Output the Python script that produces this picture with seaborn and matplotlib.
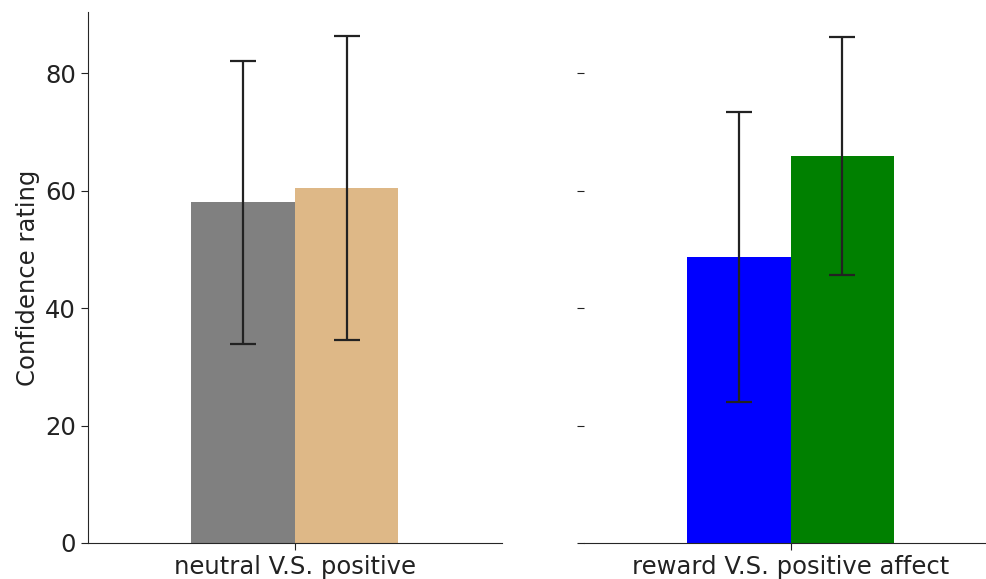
import matplotlib
matplotlib.use("Agg")
import matplotlib.pyplot as plt
import seaborn as sns
import pandas as pd

# Data
left_category = ["neutral V.S. positive"]
left_groups = ["neutral", "positive"]
left_means = [58.0, 60.4]
left_sd = [24.1, 25.9]
left_colors = ["gray", "burlywood"]

right_category = ["reward V.S. positive affect"]
right_groups = ["reward", "positive affect"]
right_means = [48.7, 65.9]
right_sd = [24.7, 20.3]
right_colors = ["blue", "green"]

y_label = "Confidence rating"
y_ticks = [0, 20, 40, 60, 80]

sns.set_style("ticks")
plt.rcParams["font.family"] = ["DejaVu Sans"]
FS = 17.5

W, H = 987, 579
fig = plt.figure(figsize=(W / 100, H / 100), dpi=100)
bottom_px, top_px = 543, 12
ax_l = fig.add_axes([88 / W, (H - bottom_px) / H, 414 / W, (bottom_px - top_px) / H])
ax_r = fig.add_axes([584 / W, (H - bottom_px) / H, 413 / W, (bottom_px - top_px) / H],
                    sharey=ax_l)


def draw(ax, cat, groups, means, sd, colors):
    df = pd.DataFrame({"cat": cat * len(groups), "group": groups, "mean": means})
    sns.barplot(data=df, x="cat", y="mean", hue="group", hue_order=groups,
                palette=colors, saturation=1, width=0.5, errorbar=None,
                legend=False, linewidth=0, ax=ax)
    xs = [p.get_x() + p.get_width() / 2 for p in ax.patches[:len(groups)]]
    ax.errorbar(xs, means, yerr=sd, fmt="none", ecolor="#222222",
                elinewidth=1.6, capsize=9.5, capthick=1.6)
    ax.set_xlim(-0.5, 0.5)
    ax.set_xlabel("")
    ax.tick_params(axis="both", labelsize=FS, colors="#222222", labelcolor="#222222",
                   length=5)
    for s in ["top", "right"]:
        ax.spines[s].set_visible(False)


draw(ax_l, left_category, left_groups, left_means, left_sd, left_colors)
draw(ax_r, right_category, right_groups, right_means, right_sd, right_colors)

ax_l.set_ylim(0, 90.4)
ax_l.set_yticks(y_ticks)
ax_l.set_ylabel(y_label, fontsize=FS, color="#222222")
ax_r.set_ylabel("")
ax_r.spines["left"].set_visible(False)
ax_r.tick_params(axis="y", labelleft=False)

fig.savefig("out.png", dpi=100)
